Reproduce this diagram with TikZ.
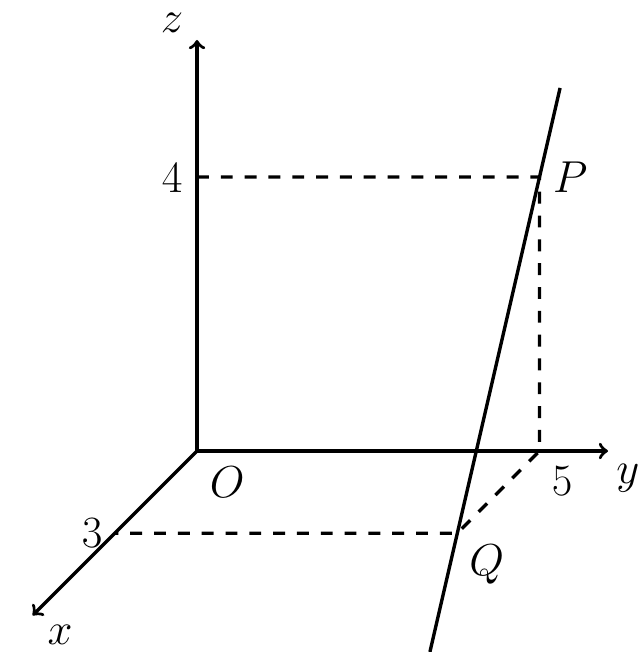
\documentclass[tikz,border=0pt]{standalone}
\begin{document}
\begin{tikzpicture}[x={(-0.372cm,-0.372cm)},y={(0.93cm,0cm)},z={(0cm,0.93cm)},line width=1.3pt,
    every node/.style={font=\fontsize{16.5}{20}\selectfont,inner sep=0pt},
    dashline/.style={dash pattern=on 4.6pt off 4.6pt}]
  \useasboundingbox (0,-2.876,-2.934) rectangle (0,6.511,6.584);
  \coordinate (O) at (0,0,0);
  \coordinate (X) at (6,0,0);
  \coordinate (Y) at (0,6,0);
  \coordinate (Z) at (0,0,6);
  \coordinate (Z4) at (0,0,4);
  \coordinate (Y5) at (0,5,0);
  \coordinate (X3) at (3,0,0);
  \coordinate (P) at (0,5,4);
  \coordinate (Q) at (3,5,0);
  \coordinate (L1) at (4,5,-4/3);
  \coordinate (L2) at (-0.75,5,5);
  \begin{scope}[->]
    \draw (O) to (X);
    \draw (O) to (Y);
    \draw (O) to (Z);
  \end{scope}
  \draw[dashline] (Z4) -- (P) -- (Y5) -- (Q) -- (X3);
  \draw (L1) -- (L2);
  \draw
    (0,-0.365,6.25) node (zl){$z$}
    (0,6.29,-0.39) node (yl){$y$}
    (0,-2.0,-2.69) node (xl){$x$}
    (0,0.44,-0.45) node (ol){$O$}
    (0,-0.365,3.99) node (fourl){$4$}
    (0,5.33,-0.44) node (fivel){$5$}
    (0,-1.53,-1.2) node (threel){$3$}
    (0,5.45,3.99) node (pl){$P$}
    (0,4.23,-1.66) node (ql){$Q$};
\end{tikzpicture}
\end{document}
